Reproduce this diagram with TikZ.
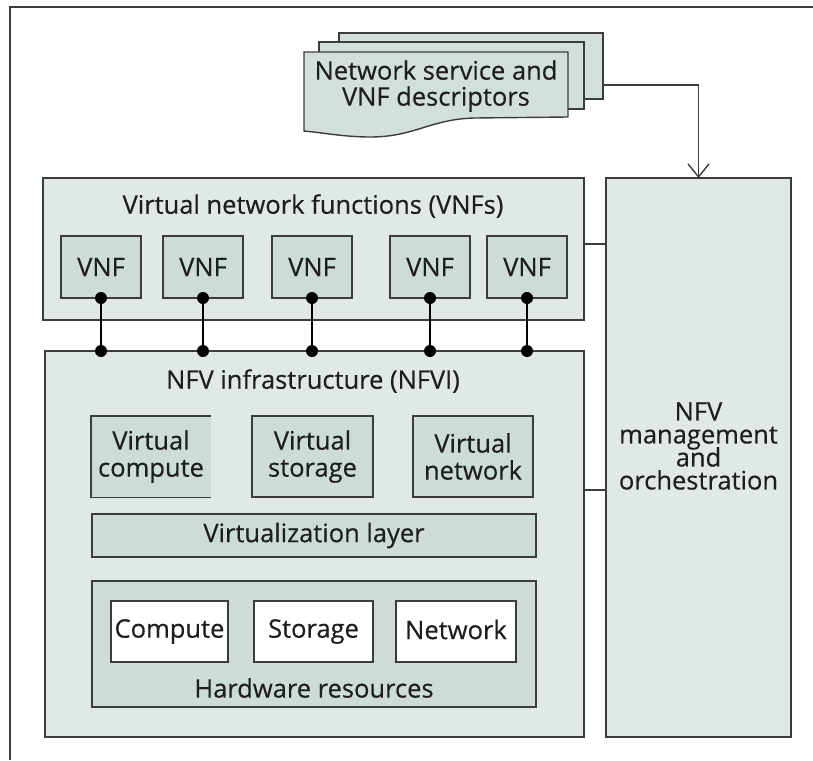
\documentclass[tikz,border=0pt]{standalone}
\usepackage{fontspec}
\setmainfont[FakeBold=0.4]{Open Sans}
\usetikzlibrary{arrows.meta}
\definecolor{outerfill}{HTML}{E1E9E6}
\definecolor{innerfill}{HTML}{CEDCD8}
\definecolor{docfill}{HTML}{D3DFDB}
\definecolor{edge}{HTML}{3C3C3C}
\definecolor{txt}{HTML}{1E1E1E}
\begin{document}
\begin{tikzpicture}[x=1pt,y=-1pt,
  box/.style={draw=edge, line width=1.4pt, inner sep=0pt, outer sep=0pt},
  outer/.style={box, fill=outerfill},
  inner/.style={box, fill=innerfill},
  hw/.style={box, fill=white},
  lbl/.style={text=txt, font=\fontsize{25.5}{28}\selectfont, align=center, inner sep=0pt},
  dot/.style={circle, fill=black, inner sep=0pt, minimum size=12pt},
  link/.style={draw=edge, line width=1.4pt},
  arr/.style={link, -{Straight Barb[length=13pt,width=21pt,line width=1.4pt]}}]
\useasboundingbox (0,0) rectangle (813,760);
% frame
\coordinate (fbl) at (10,760);
\coordinate (ftl) at (10,7);
\coordinate (ftr) at (813,7);
\draw[edge, line width=2pt] (fbl) -- (ftl) -- (ftr);

% descriptor documents
\node[box, fill=docfill, minimum width=264pt, minimum height=66pt] (docB) at (471,66) {};
\node[box, fill=docfill, minimum width=265pt, minimum height=67pt] (docM) at (451.5,75.5) {};
\coordinate (dtl) at (304,52);
\coordinate (dtr) at (568,52);
\draw[box, fill=docfill] (dtl) -- (dtr) -- (568,117) -- (475,118)
  .. controls (430,119) and (415,137) .. (370,137)
  .. controls (345,137) and (325,133) .. (304,131) -- cycle;
\node[lbl] (doctext) at (436,86) {Network service and\\[-2pt]VNF descriptors};

% MANO
\node[outer, minimum width=185pt, minimum height=559pt] (mano) at (698.5,457.5) {};
\node[lbl] (manotext) at (698.5,446) {NFV\\[-5pt]management\\[-5pt]and\\[-5pt]orchestration};
\coordinate (arrstart) at (603,85);
\draw[arr] (arrstart) -| (mano.north);

% VNFs
\node[outer, minimum width=541pt, minimum height=142pt] (vnfs) at (313.5,249) {};
\node[lbl] (vnfstitle) at (313,206) {Virtual network functions (VNFs)};
\foreach \i/\x in {1/101,2/203,3/312,4/430,5/527}{
  \node[inner, minimum width=80pt, minimum height=62pt] (vnf\i) at (\x,267) {};
  \node[lbl] (vnft\i) at (\x,267) {VNF};
}

% NFVI
\node[outer, minimum width=539pt, minimum height=386pt] (nfvi) at (314.5,544) {};
\node[lbl] (nfvititle) at (313,381) {NFV infrastructure (NFVI)};

\node[fill=innerfill, inner sep=0pt, minimum width=120pt, minimum height=81pt] (vc) at (151,456.5) {};
\draw[box] (vc.north east) -- (vc.north west) -- (vc.south west) -- (vc.south east);
\node[lbl] (vct) at (151,456.5) {Virtual\\[-1pt]compute};
\node[inner, minimum width=121pt, minimum height=81pt] (vs) at (312.5,456.5) {};
\node[lbl] (vst) at (312.5,456.5) {Virtual\\[-1pt]storage};
\node[inner, minimum width=120pt, minimum height=81pt] (vn) at (473,456.5) {};
\node[lbl] (vnt) at (473,456.5) {Virtual\\[-1pt]network};

\node[inner, minimum width=444pt, minimum height=43pt] (vl) at (314,535.5) {};
\node[lbl] (vlt) at (314,535.5) {Virtualization layer};

\node[inner, minimum width=444pt, minimum height=126pt] (hwr) at (314,644) {};
\node[lbl] (hwrt) at (314,688) {Hardware resources};
\node[hw, minimum width=117pt, minimum height=61pt] (cmp) at (169.5,631.5) {};
\node[lbl] (cmpt) at (169.5,631.5) {Compute};
\node[hw, minimum width=119pt, minimum height=61pt] (sto) at (313.5,631.5) {};
\node[lbl] (stot) at (313.5,631.5) {Storage};
\node[hw, minimum width=120pt, minimum height=61pt] (net) at (456,631.5) {};
\node[lbl] (nett) at (456,629.5) {Network};

% links to MANO
\draw[link] ([yshift=5pt]vnfs.east) -- ([yshift=5pt]vnfs.east -| mano.west);
\draw[link] ([yshift=54pt]nfvi.east) -- ([yshift=54pt]nfvi.east -| mano.west);

% VNF to NFVI connections
\foreach \i in {1,...,5}{
  \node[dot] (da\i) at (vnf\i.south) {};
  \node[dot] (db\i) at (vnf\i.south |- nfvi.north) {};
  \draw[link, draw=black] (da\i) -- (db\i);
}
\end{tikzpicture}
\end{document}
